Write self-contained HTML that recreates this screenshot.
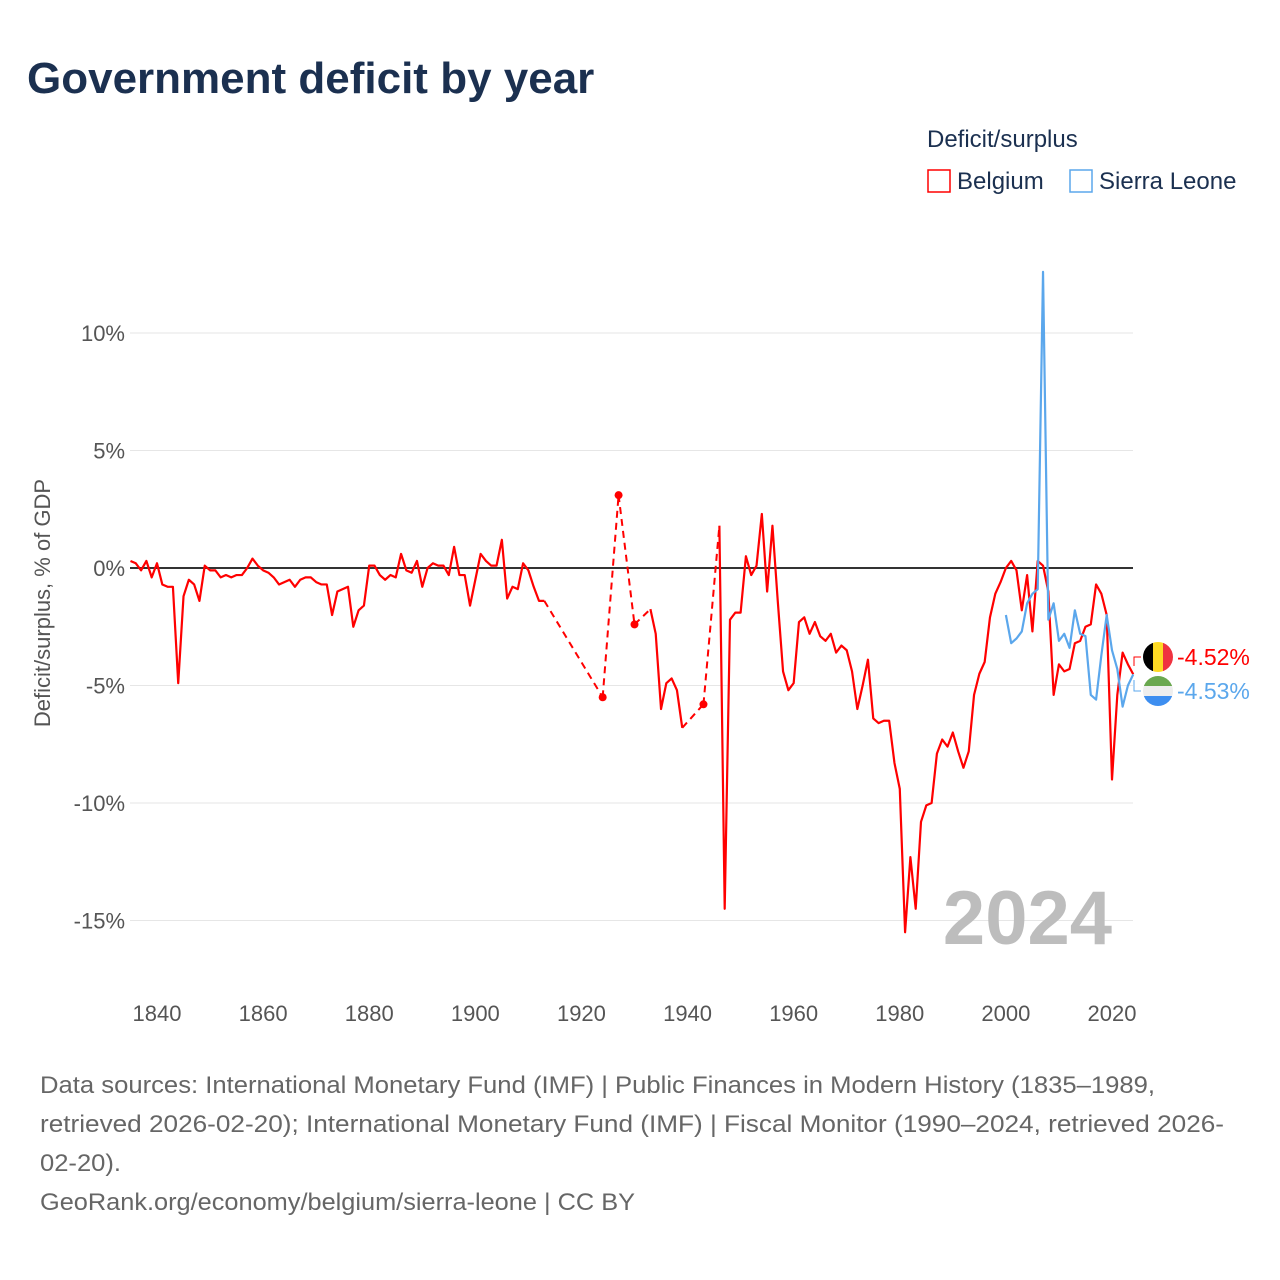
<!DOCTYPE html>
<html><head><meta charset="utf-8"><style>
body{margin:0;background:#fff;font-family:"Liberation Sans",sans-serif;}
#wrap{position:relative;width:1280px;height:1280px;overflow:hidden}
</style></head><body>
<div id="wrap">
<svg id="chart" width="1280" height="1280" xmlns="http://www.w3.org/2000/svg">
<text x="27" y="93" font-size="44" font-weight="bold" fill="#1b3050">Government deficit by year</text>
<text x="927" y="147" font-size="24" fill="#1b3050">Deficit/surplus</text>
<g><rect x="928" y="170" width="22" height="22" fill="none" stroke="#ff0000" stroke-width="1.5"/><text x="957" y="189" font-size="24" fill="#1b3050">Belgium</text></g>
<g><rect x="1070" y="170" width="22" height="22" fill="none" stroke="#5ba7ec" stroke-width="1.5"/><text x="1099" y="189" font-size="24" fill="#1b3050">Sierra Leone</text></g>
<text transform="translate(50,603) rotate(-90)" text-anchor="middle" font-size="22" fill="#555">Deficit/surplus, % of GDP</text>
<g id="grid"></g><g id="yt"></g><g id="xt"></g>
<text x="1112" y="944" text-anchor="end" font-size="76" font-weight="bold" fill="#bdbdbd">2024</text>
<g id="series"></g>
<g>
<clipPath id="cb"><circle cx="1158" cy="657" r="15"/></clipPath>
<g clip-path="url(#cb)"><rect x="1143" y="642" width="10" height="30" fill="#000"/><rect x="1153" y="642" width="10" height="30" fill="#fdda24"/><rect x="1163" y="642" width="10" height="30" fill="#ef3340"/></g>
<text x="1177" y="665" font-size="23" fill="#ff0000">-4.52%</text></g>
<g>
<clipPath id="cs"><circle cx="1158" cy="691" r="15"/></clipPath>
<g clip-path="url(#cs)"><rect x="1143" y="676" width="30" height="10" fill="#6aa84f"/><rect x="1143" y="686" width="30" height="10" fill="#eee"/><rect x="1143" y="696" width="30" height="10" fill="#3d8ef0"/></g>
<text x="1177" y="699" font-size="23" fill="#5ba7ec">-4.53%</text></g>
<path d="M1134 666 V657 H1141" fill="none" stroke="#ff0000" stroke-width="1"/>
<path d="M1134 680 V691 H1141" fill="none" stroke="#5ba7ec" stroke-width="1"/>
<g font-size="24" fill="#666">
<text x="40" y="1093" textLength="1115" lengthAdjust="spacingAndGlyphs">Data sources: International Monetary Fund (IMF) | Public Finances in Modern History (1835–1989,</text>
<text x="40" y="1132" textLength="1184" lengthAdjust="spacingAndGlyphs">retrieved 2026-02-20); International Monetary Fund (IMF) | Fiscal Monitor (1990–2024, retrieved 2026-</text>
<text x="40" y="1171" textLength="81" lengthAdjust="spacingAndGlyphs">02-20).</text>
<text x="40" y="1210" textLength="595" lengthAdjust="spacingAndGlyphs">GeoRank.org/economy/belgium/sierra-leone | CC BY</text>
</g>
</svg>
</div>
<script>
const yTicks=[10,5,0,-5,-10,-15];
const xTicks=[1840,1860,1880,1900,1920,1940,1960,1980,2000,2020];
const belgiumStart=1835;
const belgium=[0.3,0.2,-0.1,0.3,-0.4,0.2,-0.7,-0.8,-0.8,-4.9,-1.2,-0.5,-0.7,-1.4,0.1,-0.1,-0.1,-0.4,-0.3,-0.4,-0.3,-0.3,0.0,0.4,0.1,-0.1,-0.2,-0.4,-0.7,-0.6,-0.5,-0.8,-0.5,-0.4,-0.4,-0.6,-0.7,-0.7,-2.0,-1.0,-0.9,-0.8,-2.5,-1.8,-1.6,0.1,0.1,-0.3,-0.5,-0.3,-0.4,0.6,-0.1,-0.2,0.3,-0.8,0.0,0.2,0.1,0.1,-0.3,0.9,-0.3,-0.3,-1.6,-0.5,0.6,0.3,0.1,0.1,1.2,-1.3,-0.8,-0.9,0.2,-0.1,-0.8,-1.4,-1.4,
null,null,null,null,null,null,null,null,null,null,-5.5,null,null,3.1,null,null,-2.4,null,null,-1.75,-2.8,-6.0,-4.9,-4.7,-5.2,-6.8,null,null,null,-5.8,null,null,
1.8,-14.5,-2.2,-1.9,-1.9,0.5,-0.3,0.1,2.3,-1.0,1.8,-1.4,-4.4,-5.2,-4.9,-2.3,-2.1,-2.8,-2.3,-2.9,-3.1,-2.8,-3.6,-3.3,-3.5,-4.4,-6.0,-5.0,-3.9,-6.4,-6.6,-6.5,-6.5,-8.3,-9.4,-15.5,-12.3,-14.5,-10.8,-10.1,-10.0,-7.9,-7.3,-7.6,-7.0,-7.8,-8.5,-7.8,-5.4,-4.5,-4.0,-2.1,-1.1,-0.6,0.0,0.3,-0.1,-1.8,-0.3,-2.7,0.3,0.1,-1.0,-5.4,-4.1,-4.4,-4.3,-3.2,-3.1,-2.5,-2.4,-0.7,-1.1,-2.0,-9.0,-5.4,-3.6,-4.1,-4.52];
const sierraStart=2000;
const sierra=[-2.0,-3.2,-3.0,-2.7,-1.5,-1.1,-0.9,12.6,-2.2,-1.5,-3.1,-2.8,-3.4,-1.8,-2.8,-2.9,-5.4,-5.6,-3.7,-2.0,-3.5,-4.3,-5.9,-5.0,-4.53];
const NS='http://www.w3.org/2000/svg';
const xs=y=>157+(y-1840)*(1112-157)/180;
const ys=v=>568-v*23.5;
function mk(t,a,p){const e=document.createElementNS(NS,t);for(const k in a)e.setAttribute(k,a[k]);p.appendChild(e);return e;}
const grid=document.getElementById('grid'),yt=document.getElementById('yt'),xt=document.getElementById('xt'),ser=document.getElementById('series');
yTicks.forEach(v=>{
 const l=mk('line',{x1:130,x2:1133,y1:ys(v),y2:ys(v),stroke:'#e6e6e6','stroke-width':1},grid);
 
 
 const t=mk('text',{x:125,y:ys(v)+8,'text-anchor':'end','font-size':22,fill:'#555'},yt);
 t.textContent=v+'%';
 
 
});
xTicks.forEach(y=>{
 const t=mk('text',{x:xs(y),y:1021,'text-anchor':'middle','font-size':22,fill:'#555'},xt);
 t.textContent=y;
 
 
});
const zl=mk('line',{x1:130,x2:1133,y1:ys(0),y2:ys(0),stroke:'#333','stroke-width':2},grid);


function draw(start,vals,color,name){
 const g=mk('g',{},ser);
 
 
 const pts=[];vals.forEach((v,i)=>{if(v!==null)pts.push([start+i,v]);});
 for(let i=1;i<pts.length;i++){
  const a=pts[i-1],b=pts[i];
  if(b[0]-a[0]>1){const d=mk('line',{x1:xs(a[0]),y1:ys(a[1]),x2:xs(b[0]),y2:ys(b[1]),stroke:color,'stroke-width':2,'stroke-dasharray':'7,5'},g);
   
   }
 }
 let seg=[];
 const flush=()=>{if(seg.length>1){const p=mk('polyline',{points:seg.map(q=>xs(q[0])+','+ys(q[1])).join(' '),fill:'none',stroke:color,'stroke-width':2.2,'stroke-linejoin':'round'},g);
   
   }
  else if(seg.length===1){const c=mk('circle',{cx:xs(seg[0][0]),cy:ys(seg[0][1]),r:4,fill:color},g);
   
   }
  seg=[];};
 vals.forEach((v,i)=>{if(v===null)flush();else seg.push([start+i,v]);});flush();
}
draw(belgiumStart,belgium,'#ff0000','belgium');
draw(sierraStart,sierra,'#5ba7ec','sierra-leone');
</script>
</body></html>
